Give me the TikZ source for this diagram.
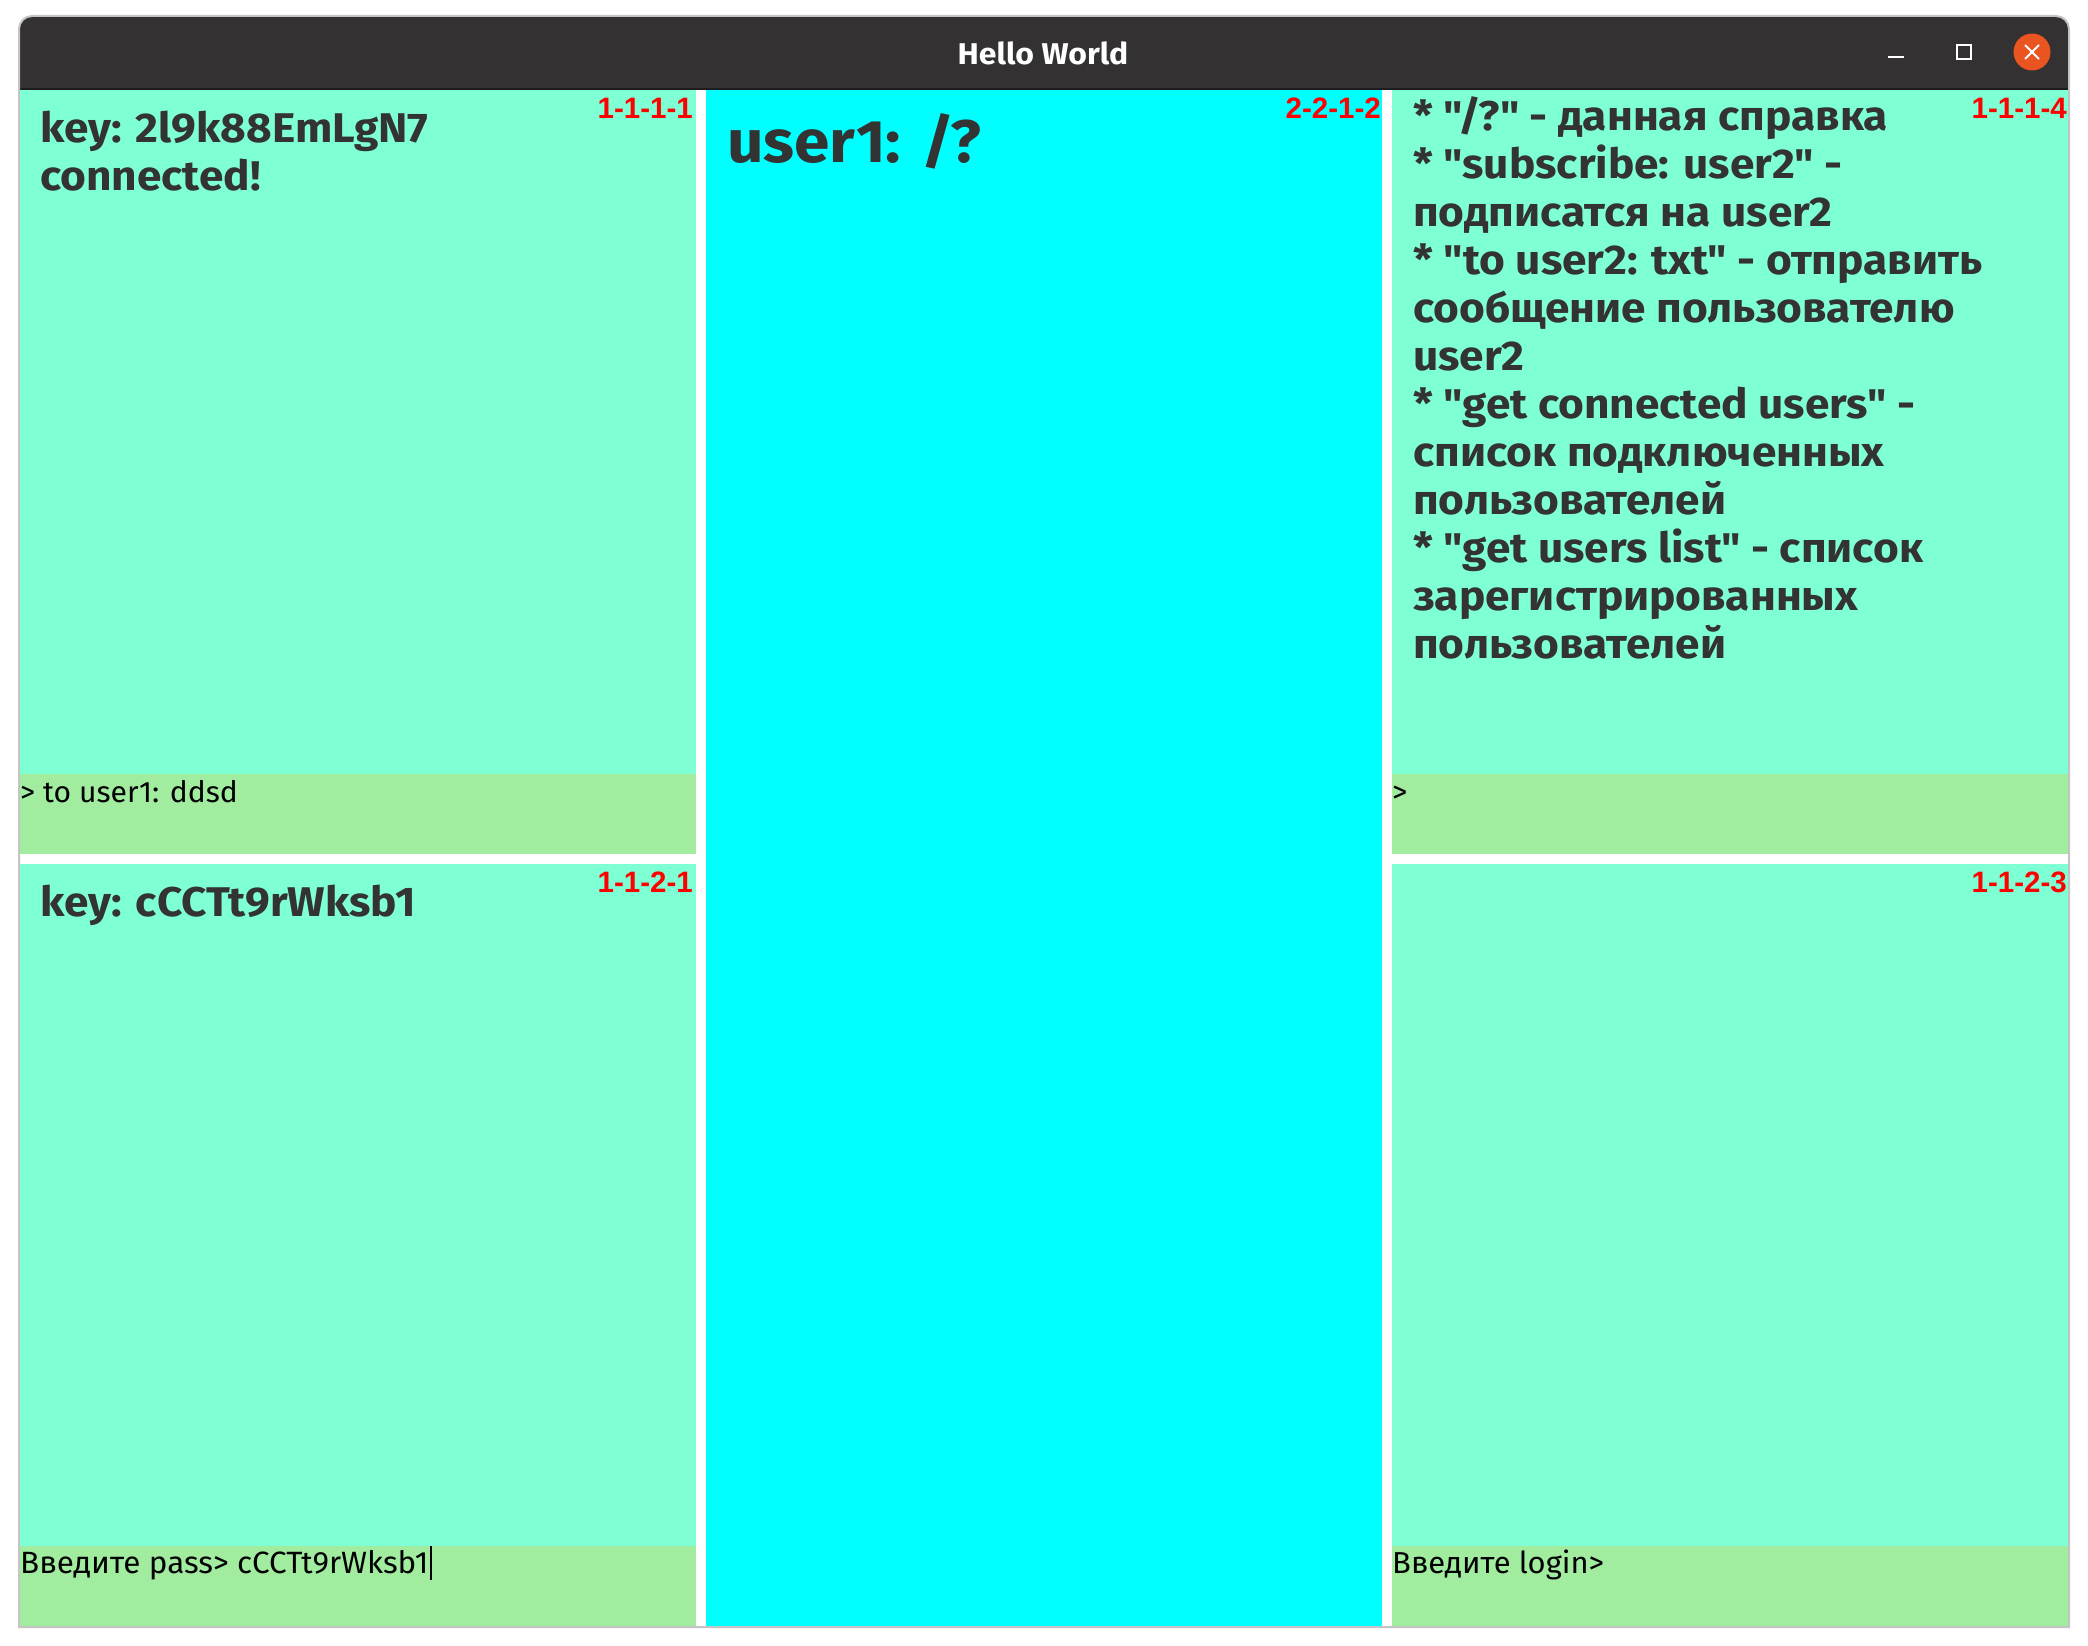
\documentclass[tikz,border=0pt]{standalone}
\usepackage{fontspec}
\usepackage{xcolor}
\newfontfamily\panefont[UprightFeatures={FakeStretch=1.02},BoldFeatures={FakeStretch=1.065}]{Fira Sans}
\newfontfamily\labelfont{Liberation Sans}
\definecolor{titlegrey}{HTML}{333131}
\definecolor{titleline}{HTML}{1E1C1C}
\definecolor{framegrey}{HTML}{C4C4C4}
\definecolor{paneaqua}{HTML}{7FFFD4}
\definecolor{inputgreen}{HTML}{A1EC9F}
\definecolor{centercyan}{HTML}{00FFFF}
\definecolor{textgrey}{HTML}{333333}
\definecolor{closeorange}{HTML}{E95420}
\tikzset{
  msg/.style={anchor=north west,inner sep=0pt,text=textgrey,align=left,font=\fontsize{#1}{48}\selectfont\panefont\bfseries},
  msg/.default=41.5,
  tag/.style={anchor=base east,inner sep=0pt,text=red,font=\fontsize{29.5}{30}\selectfont\labelfont\bfseries},
  prompt/.style={anchor=base west,inner sep=0pt,text=black,font=\fontsize{#1}{#1}\selectfont\panefont},
  prompt/.default=30
}
\begin{document}
\begin{tikzpicture}[x=1pt,y=-1pt]
\useasboundingbox (0,0) rectangle (2088,1646);
\def\winframe{(19,1627) -- (19,29) arc (180:270:13) -- (2056,16) arc (270:360:13) -- (2069,1627) -- cycle}
  \fill[white] \winframe;
  % title bar
  \fill[titlegrey] (19,88) -- (19,29) arc (180:270:13) -- (2056,16) arc (270:360:13) -- (2069,88) -- cycle;
  \fill[titleline] (19,88) rectangle (2069,90);
  \draw[framegrey,line width=2pt] \winframe;
  \node[text=white,font=\fontsize{30}{30}\selectfont\panefont\bfseries] (title) at (1043,53) {Hello World};
  \draw[white,line width=2pt] (1888,57) -- (1904,57);
  \draw[white,line width=2pt] (1957,45) rectangle (1971,59);
  \fill[closeorange] (2032,52) circle (18.5);
  \draw[white,line width=2pt] (2025,45) -- (2039,59) (2039,45) -- (2025,59);
  % panes, two rows on the sides
  \foreach \px in {20,1392}{
    \fill[paneaqua] (\px,90) rectangle +(676,684);
    \fill[inputgreen] (\px,774) rectangle +(676,80);
    \fill[paneaqua] (\px,864) rectangle +(676,682);
    \fill[inputgreen] (\px,1546) rectangle +(676,80);
  }
  \fill[centercyan] (706,90) rectangle (1382,1626);
  % messages
  \node[msg] (msgA) at (40,111) {key: 2l9k88EmLgN7\\connected!};
  \node[msg] (msgB) at (40,885) {key: cCCTt9rWksb1};
  \node[msg=60] (msgC) at (727,113) {user1: /?};
  \node[msg] (msgD) at (1413,96) {* "/?" - данная справка\\
    * "subscribe: user2" -\\
    подписатся на user2\\
    * "to user2: txt" - отправить\\
    сообщение пользователю\\
    user2\\
    * "get connected users" -\\
    список подключенных\\
    пользователей\\
    * "get users list" - список\\
    зарегистрированных\\
    пользователей};
  % corner tags
  \node[tag] (tagA) at (693,118) {1-1-1-1};
  \node[tag] (tagB) at (1381,118) {2-2-1-2};
  \node[tag] (tagC) at (2067,118) {1-1-1-4};
  \node[tag] (tagD) at (693,892) {1-1-2-1};
  \node[tag] (tagE) at (2067,892) {1-1-2-3};
  % input lines
  \node[prompt=29.5] (inA) at (20,802) {> to user1: ddsd};
  \node[prompt] (inB) at (1392,802) {>};
  \node[prompt=30.8] (inC) at (20,1573) {Введите pass> cCCTt9rWksb1};
  \node[prompt=30.3] (inD) at (1392,1573) {Введите login>};
  \draw[black,line width=1.5pt] (431,1546) -- (431,1580);
\end{tikzpicture}
\end{document}
